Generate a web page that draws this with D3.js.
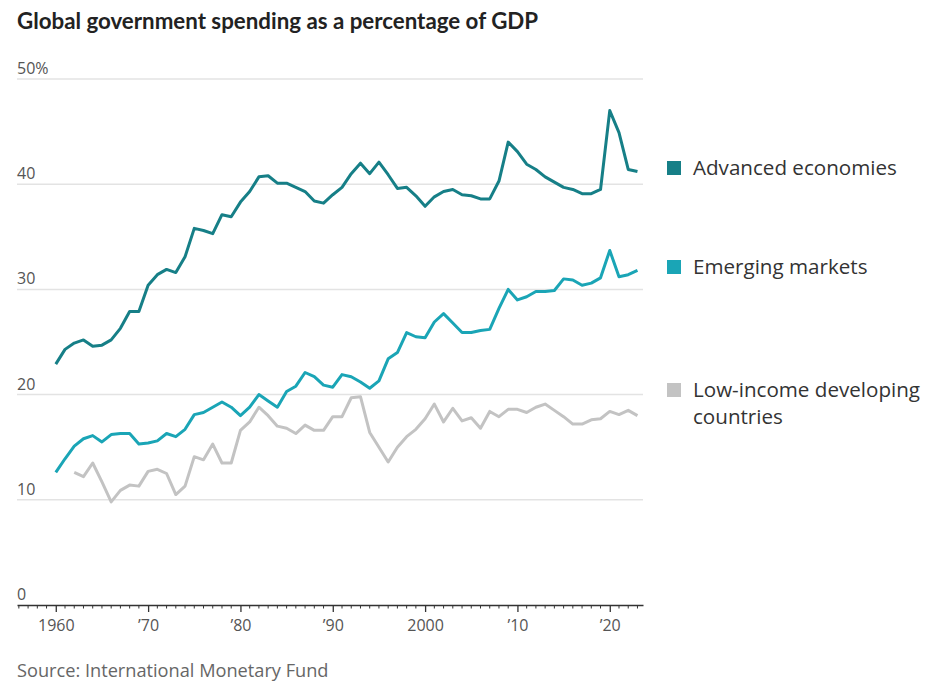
<!DOCTYPE html>
<html>
<head>
<meta charset="utf-8">
<script src="https://cdn.jsdelivr.net/npm/d3@7"></script>
<style>
  body { margin: 0; background: #fff; }
  svg { font-family: "Open Sans", Lato, sans-serif; }
  .grid line { stroke: #e3e3e3; stroke-width: 1.5; }
  .y-label { fill: #555; font-size: 16px; }
  .x-axis text { fill: #555; font-size: 16px; font-family: "Open Sans", sans-serif; }
  .legend text { fill: #333; font-size: 20.6px; }
</style>
</head>
<body>
<svg class="chart" width="929" height="688"></svg>
<script>
// values, one per year
const years = d3.range(1960, 2024);

const advanced = [22.9, 24.3, 24.9, 25.2, 24.6, 24.7, 25.2, 26.3, 27.9, 27.9,
  30.4, 31.4, 31.9, 31.6, 33.1, 35.8, 35.6, 35.3, 37.1, 36.9,
  38.3, 39.3, 40.7, 40.8, 40.1, 40.1, 39.7, 39.3, 38.4, 38.2,
  39.0, 39.7, 41.0, 42.0, 41.0, 42.1, 40.9, 39.6, 39.7, 38.9,
  37.9, 38.8, 39.3, 39.5, 39.0, 38.9, 38.6, 38.6, 40.3, 44.0,
  43.1, 41.9, 41.4, 40.7, 40.2, 39.7, 39.5, 39.1, 39.1, 39.5,
  47.0, 44.9, 41.4, 41.2];

const emerging = [12.6, 13.9, 15.1, 15.8, 16.1, 15.5, 16.2, 16.3, 16.3, 15.3,
  15.4, 15.6, 16.3, 16.0, 16.7, 18.1, 18.3, 18.8, 19.3, 18.8,
  18.0, 18.8, 20.0, 19.4, 18.8, 20.3, 20.8, 22.1, 21.7, 20.9,
  20.7, 21.9, 21.7, 21.2, 20.6, 21.3, 23.4, 24.0, 25.9, 25.5,
  25.4, 26.9, 27.7, 26.8, 25.9, 25.9, 26.1, 26.2, 28.2, 30.0,
  29.0, 29.3, 29.8, 29.8, 29.9, 31.0, 30.9, 30.4, 30.6, 31.1,
  33.7, 31.2, 31.4, 31.8];

// series starts in 1962
const lowIncome = [null, null, 12.6, 12.2, 13.5, 11.7, 9.8, 10.9, 11.4, 11.3,
  12.7, 12.9, 12.5, 10.5, 11.3, 14.1, 13.8, 15.3, 13.5, 13.5,
  16.6, 17.4, 18.8, 18.0, 17.0, 16.8, 16.3, 17.1, 16.6, 16.6,
  17.9, 17.9, 19.7, 19.8, 16.4, 15.0, 13.6, 15.0, 16.0, 16.7,
  17.7, 19.1, 17.4, 18.7, 17.5, 17.8, 16.8, 18.4, 17.9, 18.6,
  18.6, 18.3, 18.8, 19.1, 18.5, 17.9, 17.2, 17.2, 17.6, 17.7,
  18.4, 18.1, 18.5, 18.0];

const yTicks = [0, 10, 20, 30, 40, 50];
const xTicks = [1960, 1970, 1980, 1990, 2000, 2010, 2020];
const xTickLabels = ['1960', '\u201970', '\u201980', '\u201990', '2000', '\u201910', '\u201920'];

const seriesNames = ['Advanced economies', 'Emerging markets', 'Low-income developing countries'];
const seriesColors = ['#167f87', '#1aa5b6', '#c3c3c3'];

function renderChart()
{
    const svg = d3.select('.chart');
    const left = 17, right = 643, top = 79, bottom = 605;

    const xScale = d3.scaleLinear()
        .domain([1955.8, 2023.6])
        .range([left, right]);

    const yScale = d3.scaleLinear()
        .domain([0, 50])
        .range([bottom, top]);

    svg.append('text')
        .attr('x', 17)
        .attr('y', 29)
        .attr('font-family', 'Lato, sans-serif')
        .attr('font-size', 22.3)
        .attr('font-weight', 'bold')
        .attr('fill', '#222')
        .text('Global government spending as a percentage of GDP');

    // horizontal grid
    svg.append('g')
        .attr('class', 'grid')
        .selectAll('line')
        .data(yTicks.filter(d => d > 0))
        .enter()
        .append('line')
        .attr('x1', left)
        .attr('x2', right)
        .attr('y1', d => yScale(d))
        .attr('y2', d => yScale(d));

    svg.append('g')
        .selectAll('text')
        .data(yTicks)
        .enter()
        .append('text')
        .attr('class', 'y-label')
        .attr('x', 17)
        .attr('y', d => yScale(d) - 5)
        .text(d => d === 50 ? '50%' : d);

    // x axis: decade ticks plus minor year ticks
    const xAxis = svg.append('g')
        .attr('class', 'x-axis')
        .attr('transform', `translate(0, ${bottom})`);

    xAxis.call(d3.axisBottom(xScale)
        .tickValues(xTicks)
        .tickFormat((d, i) => xTickLabels[i])
        .tickSize(7)
        .tickPadding(8)
        .tickSizeOuter(0));

    xAxis.select('.domain')
        .attr('stroke', '#333')
        .attr('stroke-width', 1.5);
    xAxis.selectAll('.tick line').attr('stroke', '#333').attr('stroke-width', 1.3);

    xAxis.selectAll('.minor')
        .data(d3.range(1956, 2024).filter(y => y % 10 !== 0))
        .enter()
        .append('line')
        .attr('class', 'minor')
        .attr('x1', d => xScale(d))
        .attr('x2', d => xScale(d))
        .attr('y1', 0)
        .attr('y2', 3.5)
        .attr('stroke', '#333')
        .attr('stroke-width', 1);

    const line = d3.line()
        .defined(d => d.value !== null)
        .x(d => xScale(d.year))
        .y(d => yScale(d.value));

    const allSeries = [advanced, emerging, lowIncome];
    // draw grey first so teal lines sit on top
    [2, 1, 0].forEach(i => {
        const points = years.map((y, j) => ({ year: y, value: allSeries[i][j] }));
        svg.append('path')
            .datum(points)
            .attr('fill', 'none')
            .attr('stroke', seriesColors[i])
            .attr('stroke-width', 3)
            .attr('stroke-linejoin', 'round')
            .attr('d', line);
    });

    // legend
    const legendY = [167, 266, 389];
    const legend = svg.append('g').attr('class', 'legend');
    seriesNames.forEach((name, i) => {
        legend.append('rect')
            .attr('x', 667)
            .attr('y', legendY[i] - 6)
            .attr('width', 14)
            .attr('height', 14)
            .attr('fill', seriesColors[i]);
        const t = legend.append('text')
            .attr('x', 693)
            .attr('y', legendY[i] + 8);
        if (i === 2) {
            t.append('tspan').attr('x', 693).text('Low-income developing');
            t.append('tspan').attr('x', 693).attr('dy', 27).text('countries');
        } else {
            t.text(name);
        }
    });

    svg.append('text')
        .attr('x', 17)
        .attr('y', 677)
        .attr('font-size', 18.2)
        .attr('fill', '#666')
        .text('Source: International Monetary Fund');
}

renderChart();
</script>
</body>
</html>
